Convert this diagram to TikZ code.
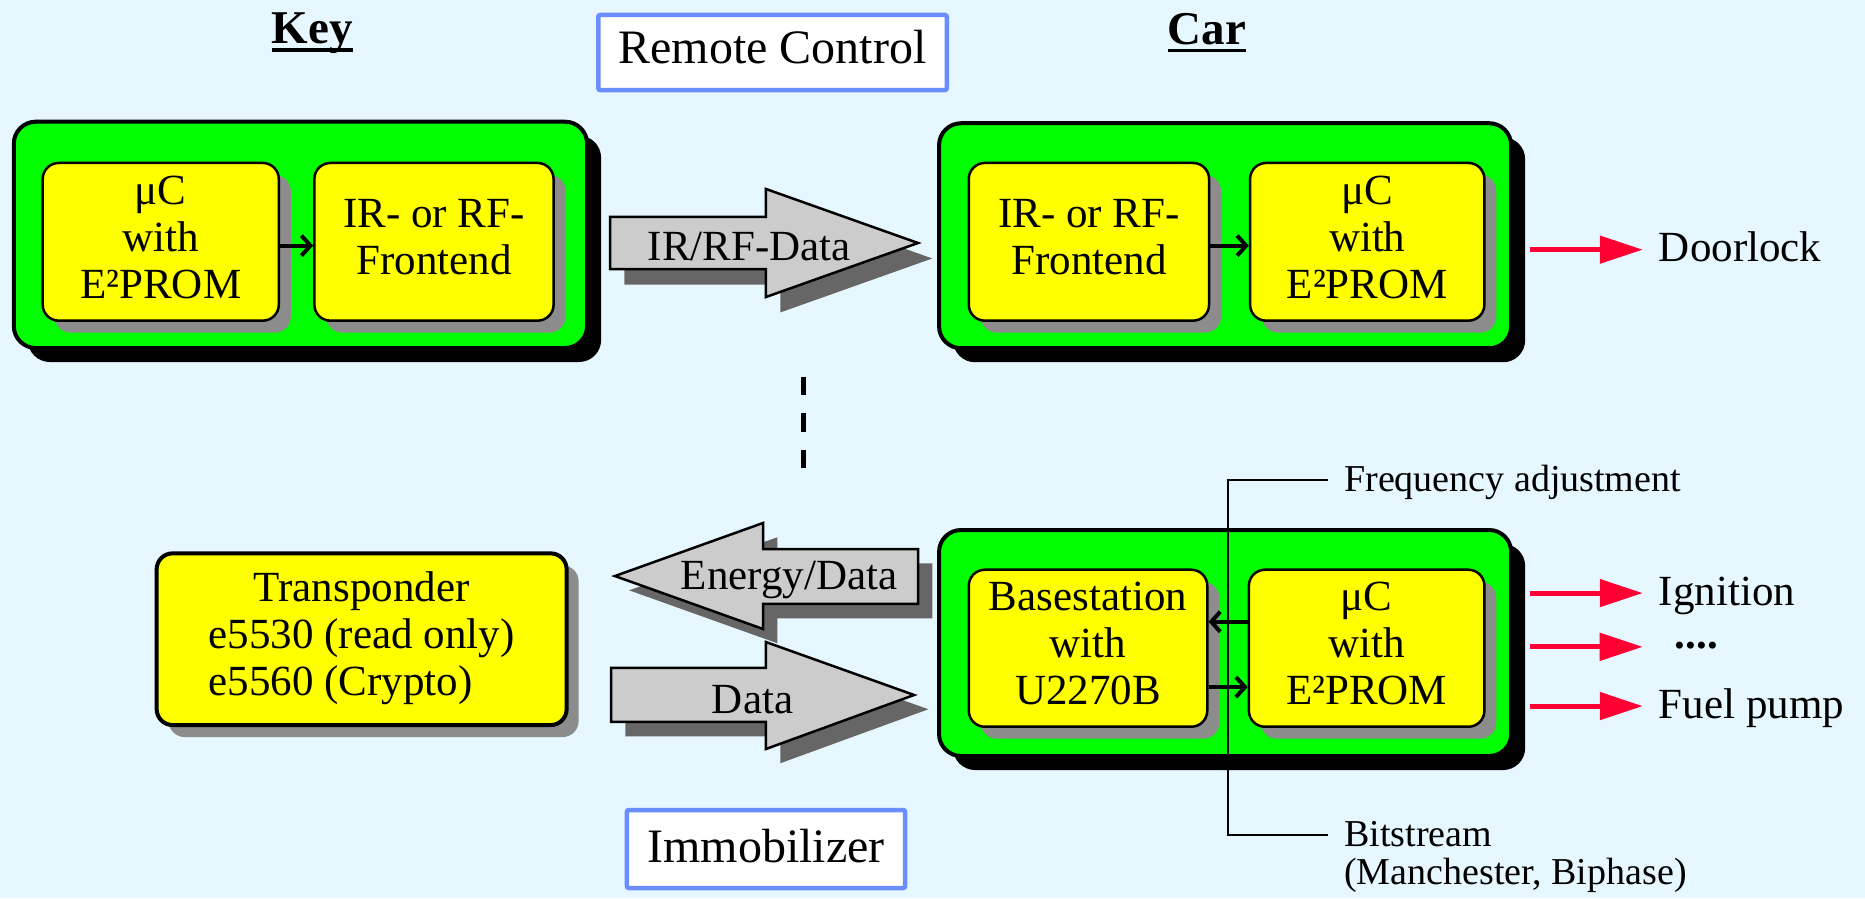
\documentclass[tikz,border=0pt]{standalone}
\usepackage{fontspec}
\setmainfont{Liberation Serif}
\usetikzlibrary{arrows.meta,shadows,calc}
\definecolor{bgc}{RGB}{230,247,255}
\definecolor{grnc}{RGB}{0,255,0}
\definecolor{ylwc}{RGB}{255,255,0}
\definecolor{shgray}{RGB}{140,140,140}
\definecolor{arrgray}{RGB}{204,204,204}
\definecolor{arrshc}{RGB}{102,102,102}
\definecolor{redc}{RGB}{255,0,51}
\definecolor{rcblue}{RGB}{106,142,255}
\newcommand\mainfs{\fontsize{43pt}{47pt}\selectfont}
\newcommand\smallfs{\fontsize{38pt}{38.5pt}\selectfont}
\newcommand\bigfs{\fontsize{48pt}{52pt}\selectfont}
\newcommand\headfs{\fontsize{47pt}{52pt}\selectfont\bfseries}
\newcommand\myul[1]{\setbox0=\hbox{#1}\rlap{\rule[-8.4pt]{\wd0}{3.5pt}}\box0}
\newcommand\dpfix{\rule[-9pt]{0pt}{9pt}}
\tikzset{
 greenbox/.style={draw=black, line width=4pt, fill=grnc, rounded corners=22pt, inner sep=0pt,
   drop shadow={shadow xshift=14pt, shadow yshift=-14pt, fill=black, opacity=1}},
 ybox/.style={draw=black, line width=2.5pt, fill=ylwc, rounded corners=16pt, inner sep=0pt,
   align=center, font=\mainfs,
   drop shadow={shadow xshift=12pt, shadow yshift=-12pt, fill=shgray, opacity=1}},
 titlebox/.style={draw=rcblue, line width=4.5pt, fill=white, rounded corners=2pt, inner sep=0pt, font=\bigfs},
 lbl/.style={font=\mainfs, inner sep=0pt, text height=32pt, text depth=8pt},
 slbl/.style={font=\smallfs, inner sep=0pt, text height=30pt, text depth=6pt},
 bigarrow/.style={fill=arrgray, draw=black, line width=2.5pt, line join=miter},
 bigshadow/.style={fill=arrshc},
 smallarrow/.style={draw=black, line width=4pt, -{Straight Barb[length=9pt,width=20pt]}},
 redarrow/.style={draw=redc, line width=5pt, -{Triangle[length=43pt,width=27pt]}},
 thinline/.style={draw=black, line width=2pt},
 dashline/.style={draw=black, line width=5pt, dash pattern=on 18.3pt off 18.3pt},
}
\begin{document}
\begin{tikzpicture}[x=1.1894pt,y=-1.1894pt]
\fill[bgc] (0,0) rectangle (1568,755);
\useasboundingbox (0,0) rectangle (1568,755);

% headings
\node[font=\headfs, inner sep=0pt, anchor=base] (keyhd) at (262.4,36.4) {\myul{Key}};
\node[font=\headfs, inner sep=0pt, anchor=base] (carhd) at (1014.7,37) {\myul{Car}};
\node[titlebox, minimum width=348.5pt, minimum height=75.1pt, text height=32pt, text depth=11pt] (rc) at (649.5,44.15) {Remote Control};
\node[titlebox, minimum width=278.3pt, minimum height=78pt, text height=34pt, text depth=8pt] (immo) at (644,713.8) {Immobilizer};

% green boxes
\node[greenbox, minimum width=573.3pt, minimum height=226.3pt] (keybox) at (252.6,197.45) {};
\node[greenbox, minimum width=572.1pt, minimum height=225pt] (carbox) at (1030,198.2) {};
\node[greenbox, minimum width=572.1pt, minimum height=226pt] (immobox) at (1030,540.6) {};

% yellow boxes
\node[ybox, minimum width=236.1pt, minimum height=157.7pt] (keymc) at (135.15,203.3) {μC\\with\\E²PROM\dpfix};
\node[ybox, minimum width=239.2pt, minimum height=157.7pt] (keyfe) at (364.85,203.3) {IR- or RF-\\Frontend\dpfix};
\node[ybox, minimum width=240.3pt, minimum height=157.7pt] (carfe) at (915.5,203.3) {IR- or RF-\\Frontend\dpfix};
\node[ybox, minimum width=234.3pt, minimum height=157.7pt] (carmc) at (1149.5,203.3) {μC\\with\\E²PROM\dpfix};
\node[ybox, minimum width=238.5pt, minimum height=157pt] (base) at (914.75,545) {Basestation\\with\\U2270B\dpfix};
\node[ybox, minimum width=235.5pt, minimum height=157pt] (immomc) at (1149,545) {μC\\with\\E²PROM\dpfix};
\node[ybox, line width=4pt, minimum width=410pt, minimum height=171.7pt] (transp) at (304.05,537.4)
  {\begin{tabular}{@{}l@{}}\multicolumn{1}{@{}c@{}}{Transponder}\\e5530 (read only)\\e5560 (Crypto)\end{tabular}};

% inner arrows
\draw[smallarrow] ([yshift=-3.8pt]keymc.east) -- ([yshift=-3.8pt]keyfe.west);
\draw[smallarrow] ([yshift=-3.8pt]carfe.east) -- ([yshift=-3.8pt]carmc.west);
\draw[smallarrow] ([yshift=26.5pt]immomc.west) -- ([yshift=26.5pt]base.east);
\draw[smallarrow] ([yshift=-38.8pt]base.east) -- ([yshift=-38.8pt]immomc.west);

% big arrows
\fill[bigshadow, shift={(12,13)}] (513,182.4) -- (644,182.4) -- (644,158.9) -- (771.8,204.3) -- (644,249.7) -- (644,226.2) -- (513,226.2) -- cycle;
\path[bigarrow] (513,182.4) -- (644,182.4) -- (644,158.9) -- (771.8,204.3) -- (644,249.7) -- (644,226.2) -- (513,226.2) -- cycle;
\node[lbl, anchor=base] (irlbl) at (630,219) {IR/RF-Data};

\fill[bigshadow, shift={(12,12)}] (517,484.3) -- (641.5,439.7) -- (641.5,461.6) -- (771.8,461.6) -- (771.8,507.8) -- (641.5,507.8) -- (641.5,528.8) -- cycle;
\path[bigarrow] (517,484.3) -- (641.5,439.7) -- (641.5,461.6) -- (771.8,461.6) -- (771.8,507.8) -- (641.5,507.8) -- (641.5,528.8) -- cycle;
\node[lbl, anchor=base] (enlbl) at (663.4,496) {Energy/Data};

\fill[bigshadow, shift={(12,12)}] (513.7,561.6) -- (644,561.6) -- (644,539.8) -- (768.5,584.3) -- (644,629.7) -- (644,607) -- (513.7,607) -- cycle;
\path[bigarrow] (513.7,561.6) -- (644,561.6) -- (644,539.8) -- (768.5,584.3) -- (644,629.7) -- (644,607) -- (513.7,607) -- cycle;
\node[lbl, anchor=base] (datalbl) at (632.7,600) {Data};

% dashed separator
\coordinate (d1) at (675.4,316.7);
\coordinate (d2) at (675.4,393.7);
\draw[dashline] (d1) -- (d2);

% outputs
\node[lbl, anchor=base west] (door) at (1394.6,220) {Doorlock};
\node[lbl, anchor=base west] (ign) at (1394.6,508.7) {Ignition};
\node[font=\mainfs\bfseries, inner sep=0pt, text height=6pt, text depth=2pt, anchor=base west] (dots) at (1408,545.5) {....};
\node[lbl, anchor=base west] (fuel) at (1394.6,603.7) {Fuel pump};
\draw[redarrow] ($(carbox.east |- door.west)+(17pt,0)$) -- ([xshift=-16pt]door.west);
\draw[redarrow] ($(immobox.east |- ign.west)+(17pt,0)$) -- ([xshift=-16pt]ign.west);
\draw[redarrow] ($(immobox.east |- dots.west)+(17pt,0)$) -- ([xshift=-32pt]dots.west);
\draw[redarrow] ($(immobox.east |- fuel.west)+(17pt,0)$) -- ([xshift=-16pt]fuel.west);

% signal annotations
\node[slbl, anchor=base west] (freq) at (1130,413.4) {Frequency adjustment};
\node[slbl, anchor=base west] (bit) at (1130,711.8) {Bitstream};
\node[slbl, anchor=base west] (bit2) at (1130,744) {(Manchester, Biphase)};
\coordinate (mid) at ($(base.east)!0.5!(immomc.west)$);
\draw[thinline] ([xshift=-16pt]freq.west) -| (mid) |- ([xshift=-16pt]bit.west);
\end{tikzpicture}
\end{document}
